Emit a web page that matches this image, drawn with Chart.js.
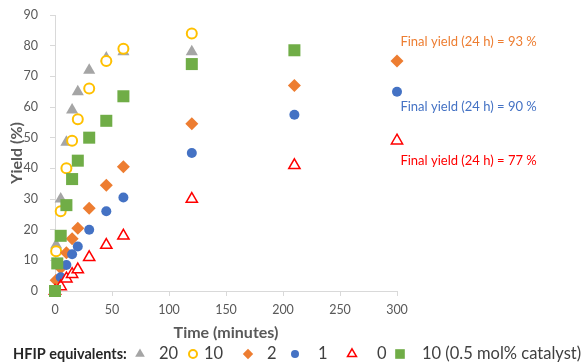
<!DOCTYPE html>
<html lang="en">
<head>
<meta charset="UTF-8">
<title>Yield vs time</title>
<script src="https://cdn.jsdelivr.net/npm/chart.js"></script>
<style>
  body { margin: 0; background: #fff; }
  #wrap { width: 584px; height: 364px; }
</style>
</head>
<body>
<div id="wrap"><canvas id="yieldChart" width="584" height="364"></canvas></div>
<script>
// HFIP equivalents series (time in minutes, yield in %)
const seriesLabels = ['20', '10', '2', '1', '0', '10 (0.5 mol% catalyst)'];

const time20 = [0, 1, 5, 10, 15, 20, 30, 45, 60, 120];
const yield20 = [0, 15, 30, 48.5, 59, 65, 72, 76, 78, 78];

const time10 = [0, 1, 5, 10, 15, 20, 30, 45, 60, 120];
const yield10 = [0, 13, 26, 40, 49, 56, 66, 75, 79, 84];

const time2 = [1, 5, 10, 15, 20, 30, 45, 60, 120, 210, 300];
const yield2 = [3.5, 7.5, 12.5, 17, 20.5, 27, 34.5, 40.5, 54.5, 67, 75];

const time1 = [0, 5, 10, 15, 20, 30, 45, 60, 120, 210, 300];
const yield1 = [0, 4.5, 8.5, 12, 14.5, 20, 26, 30.5, 45, 57.5, 65];

const time0 = [0, 5, 10, 15, 20, 30, 45, 60, 120, 210, 300];
const yield0 = [0, 1.5, 4, 5.5, 7, 11, 15, 18, 30, 41, 49];

const timeCat = [0, 2, 5, 10, 15, 20, 30, 45, 60, 120, 210];
const yieldCat = [0, 9, 18, 28, 36.5, 42.5, 50, 55.5, 63.5, 74, 78.5];

const finalYieldNotes = ['Final yield (24 h) = 93 %', 'Final yield (24 h) = 90 %', 'Final yield (24 h) = 77 %'];

const FONT = 'Lato, "Noto Sans", sans-serif';

function pts(xs, ys) {
    return xs.map((t, i) => ({ x: t, y: ys[i] }));
}

// marker looks, Excel-ish
const styles = [
    { pointStyle: 'triangle', radius: 7, bg: '#a5a5a5', border: '#a5a5a5', bw: 0 },
    { pointStyle: 'circle', radius: 5, bg: '#ffffff', border: '#ffc000', bw: 2 },
    { pointStyle: 'rectRot', radius: 6.5, bg: '#ed7d31', border: '#ed7d31', bw: 0 },
    { pointStyle: 'circle', radius: 5, bg: '#4472c4', border: '#4472c4', bw: 0 },
    { pointStyle: 'triangle', radius: 6.5, bg: '#ffffff', border: '#ff0000', bw: 1.5 },
    { pointStyle: 'rect', radius: 8.5, bg: '#70ad47', border: '#70ad47', bw: 0 }
];

const allData = [
    pts(time20, yield20), pts(time10, yield10), pts(time2, yield2),
    pts(time1, yield1), pts(time0, yield0), pts(timeCat, yieldCat)
];

const datasets = allData.map((d, i) => ({
    label: seriesLabels[i],
    data: d,
    pointStyle: styles[i].pointStyle,
    pointRadius: styles[i].radius,
    pointHoverRadius: styles[i].radius,
    backgroundColor: styles[i].bg,
    borderColor: styles[i].border,
    borderWidth: styles[i].bw,
    clip: false,
    order: 6 - i   // later series drawn on top, like Excel
}));

// side notes and the bottom legend row
const extras = {
    id: 'extras',
    afterDraw(chart) {
        const ctx = chart.ctx;
        const xs = chart.scales.x, ys = chart.scales.y;
        ctx.save();
        ctx.textBaseline = 'middle';
        ctx.textAlign = 'left';

        const noteColors = ['#ed7d31', '#4472c4', '#ff0000'];
        const noteAt = [81.2, 60, 42.4];
        ctx.font = '13px ' + FONT;
        finalYieldNotes.forEach((txt, i) => {
            ctx.fillStyle = noteColors[i];
            ctx.fillText(txt, xs.getPixelForValue(303), ys.getPixelForValue(noteAt[i]));
        });

        // legend
        const ly = 354;
        ctx.font = 'bold 14.5px ' + FONT;
        ctx.fillStyle = '#262626';
        ctx.fillText('HFIP equivalents:', 13, ly);

        const markX = [140, 193, 248, 295, 352, 400];
        const textX = [159, 204, 267, 318, 377, 422];
        ctx.font = '16.5px ' + FONT;
        styles.forEach((s, i) => {
            ctx.fillStyle = s.bg;
            ctx.strokeStyle = s.border;
            ctx.lineWidth = s.bw;
            Chart.helpers.drawPoint(ctx, {
                pointStyle: s.pointStyle, radius: s.radius * 0.8, rotation: 0, borderWidth: s.bw
            }, markX[i], ly);
            ctx.fillStyle = '#404040';
            ctx.fillText(seriesLabels[i], textX[i], ly);
        });
        ctx.restore();
    }
};

new Chart(document.getElementById('yieldChart'), {
    type: 'scatter',
    data: { datasets: datasets },
    options: {
        responsive: false,
        animation: false,
        events: [],
        layout: { padding: { top: 15, right: 187, bottom: 18, left: 0 } },
        plugins: { legend: { display: false }, tooltip: { enabled: false } },
        scales: {
            x: {
                min: 0, max: 300,
                ticks: { stepSize: 50, color: '#595959', font: { family: FONT, size: 12.5 }, padding: 6 },
                grid: { drawOnChartArea: false, drawTicks: true, tickLength: 5, color: '#d9d9d9' },
                border: { color: '#d9d9d9' },
                title: { display: true, text: 'Time (minutes)', color: '#595959', font: { family: FONT, size: 16, weight: 'bold' } },
                afterFit(scale) {
                    scale.height = 55;
                    scale.paddingLeft = 0;
                    scale.paddingRight = 0;
                }
            },
            y: {
                min: 0, max: 90,
                ticks: { stepSize: 10, color: '#595959', font: { family: FONT, size: 12.5 }, padding: 12 },
                grid: { drawOnChartArea: false, drawTicks: true, tickLength: 5, color: '#d9d9d9' },
                border: { color: '#d9d9d9' },
                title: { display: true, text: 'Yield (%)', color: '#595959', font: { family: FONT, size: 16, weight: 'bold' }, padding: 7 },
                afterFit(scale) {
                    scale.width = 55;
                    scale.paddingTop = 0;
                    scale.paddingBottom = 0;
                }
            }
        }
    },
    plugins: [extras]
});
</script>
</body>
</html>
